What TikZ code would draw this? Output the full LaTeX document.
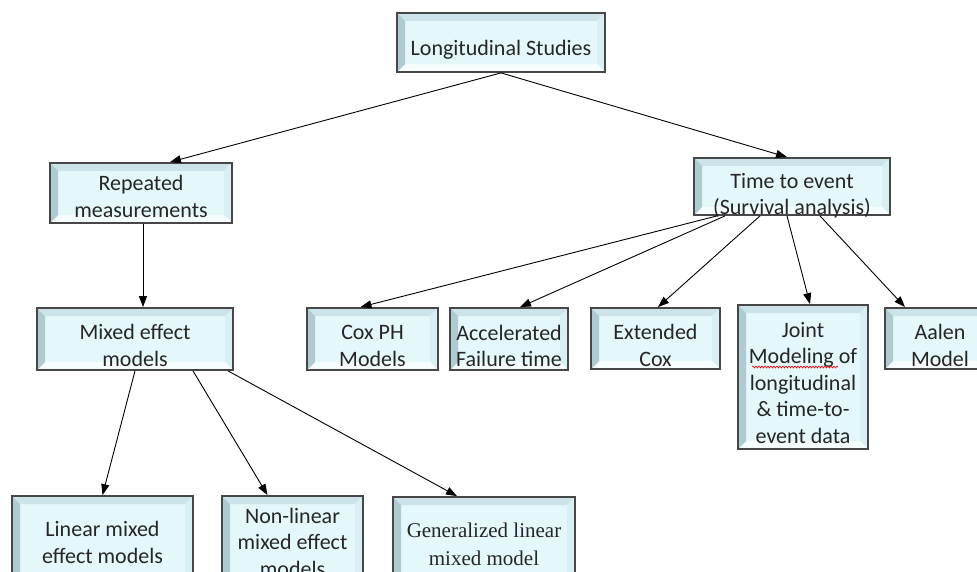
\documentclass[tikz,border=0pt]{standalone}
\usepackage{fontspec}
\setmainfont{Carlito}
\newfontfamily\serifx{Liberation Serif}
\usetikzlibrary{arrows.meta,decorations.pathmorphing}
\definecolor{bordc}{HTML}{474747}
\definecolor{cmid}{HTML}{E4F7FA}
\definecolor{ctop}{HTML}{CCE4E9}
\definecolor{cleft}{HTML}{AFCBD2}
\definecolor{cbot}{HTML}{F6FDFE}
\definecolor{cright}{HTML}{D8EFF3}
\tikzset{
  bev/.style={draw=bordc, line width=1.8pt, fill=cmid, inner sep=0pt,
    path picture={
      \coordinate (pA) at (path picture bounding box.north west);
      \coordinate (pB) at (path picture bounding box.north east);
      \coordinate (pC) at (path picture bounding box.south east);
      \coordinate (pD) at (path picture bounding box.south west);
      \coordinate (iA) at ([shift={(8pt,-8pt)}]pA);
      \coordinate (iB) at ([shift={(-8pt,-8pt)}]pB);
      \coordinate (iC) at ([shift={(-8pt,8pt)}]pC);
      \coordinate (iD) at ([shift={(8pt,8pt)}]pD);
      \fill[ctop] (pA)--(pB)--(iB)--(iA)--cycle;
      \fill[cright] (pB)--(pC)--(iC)--(iB)--cycle;
      \fill[cbot] (pC)--(pD)--(iD)--(iC)--cycle;
      \fill[cleft] (pD)--(pA)--(iA)--(iD)--cycle;
    }},
  txt/.style={inner sep=0pt, align=center, font=\fontsize{22}{26.5}\selectfont, text=black!85},
  arr/.style={draw=black, line width=0.9pt, -{Triangle[length=11pt,width=8pt]}},
}
\begin{document}
\begin{tikzpicture}[x=1pt,y=-1pt]
\useasboundingbox (0,0) rectangle (977,572);
\clip (0,0) rectangle (977,572);
% boxes
\node[bev, minimum width=208pt, minimum height=59pt] (ls) at (501,42.5) {};
\node[bev, minimum width=182pt, minimum height=60pt] (rep) at (141,193) {};
\node[bev, minimum width=196pt, minimum height=57pt] (tte) at (792,186.5) {};
\node[bev, minimum width=196pt, minimum height=62pt] (mix) at (135,339) {};
\node[bev, minimum width=131pt, minimum height=62pt] (cox) at (372.5,339) {};
\node[bev, minimum width=118pt, minimum height=62pt] (afe) at (509,339) {};
\node[bev, minimum width=129pt, minimum height=61pt] (ext) at (655.5,338.5) {};
\node[bev, minimum width=130pt, minimum height=144pt] (joint) at (803,377) {};
\node[bev, minimum width=110pt, minimum height=61pt] (aalen) at (940,338.5) {};
\node[bev, minimum width=181pt, minimum height=93pt] (lin) at (102.5,542.5) {};
\node[bev, minimum width=141pt, minimum height=92pt] (non) at (292.5,542) {};
\node[bev, minimum width=182pt, minimum height=110pt] (gen) at (484,552) {};
% texts
\node[txt] (lsT) at ([yshift=-7pt]ls.center) {Longitudinal Studies};
\node[txt] (repT) at ([yshift=-3.5pt]rep.center) {Repeated\\measurements};
\node[txt] (tteT) at ([yshift=-9pt]tte.center) {Time to event\\(Survival analysis)};
\node[txt] (mixT) at ([yshift=-6.5pt]mix.center) {Mixed effect\\models};
\node[txt] (coxT) at ([yshift=-7pt]cox.center) {Cox PH\\Models};
\node[txt] (afeT) at ([yshift=-7pt]afe.center) {Accelerated\\Failure time};
\node[txt] (extT) at ([yshift=-7pt]ext.center) {Extended\\Cox};
\node[txt] (jointT) at ([yshift=-6pt]joint.center) {Joint\\Modeling of\\longitudinal\\\& time-to-\\event data};
\node[txt] (aalenT) at ([yshift=-7pt]aalen.center) {Aalen\\Model};
\node[txt] (linT) at (lin.center) {Linear mixed\\effect models};
\node[txt] (nonT) at (non.center) {Non-linear\\mixed effect\\models};
\node[txt, font=\serifx\fontsize{21}{28}\selectfont] (genT) at ([yshift=8pt]gen.center) {Generalized linear\\mixed model};
\draw[red, line width=0.6pt, decorate, decoration={snake,amplitude=1pt,segment length=3pt}] (752,367) -- (838,367);
% connectors
\draw[arr] (ls.south) -- ([xshift=29pt]rep.north);
\draw[arr] (ls.south) -- ([xshift=-5pt]tte.north);
\draw[arr] ([xshift=2pt]rep.south) -- ([xshift=8pt]mix.north);
\draw[arr] ([xshift=-75pt]tte.south) -- ([xshift=-12pt]cox.north);
\draw[arr] ([xshift=-67pt]tte.south) -- ([xshift=11pt]afe.north);
\draw[arr] ([xshift=-32pt]tte.south) -- ([xshift=2.5pt]ext.north);
\draw[arr] ([xshift=-5pt]tte.south) -- ([xshift=7pt]joint.north);
\draw[arr] ([xshift=28pt]tte.south) -- ([xshift=-35pt]aalen.north);
\draw[arr] (mix.south) -- (lin.north);
\draw[arr] ([xshift=58pt]mix.south) -- ([xshift=-25pt]non.north);
\draw[arr] ([xshift=93pt]mix.south) -- ([xshift=-27pt]gen.north);
\end{tikzpicture}
\end{document}
